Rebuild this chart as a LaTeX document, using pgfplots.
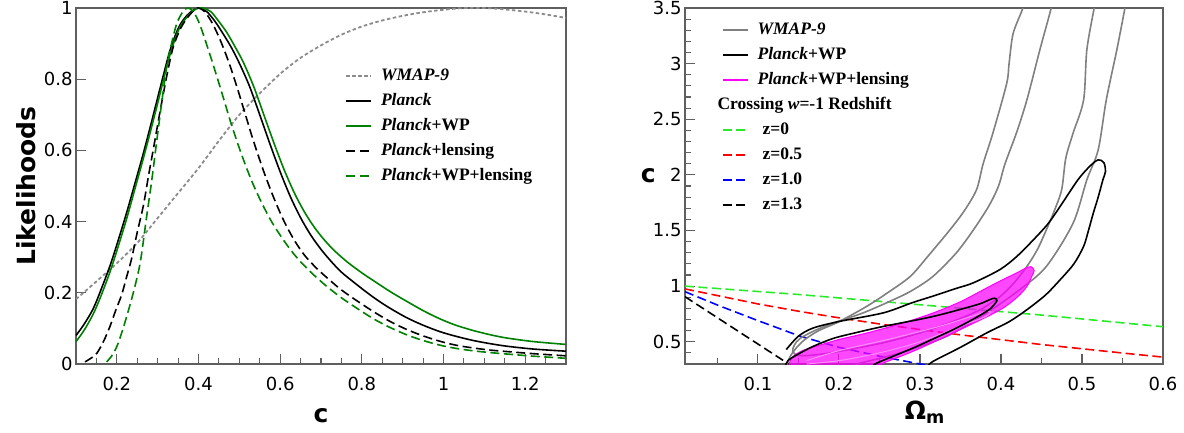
\documentclass[border=0pt]{standalone}
\usepackage{pgfplots}
\pgfplotsset{compat=1.18}
\usepackage{fontspec}
\setmainfont{Liberation Serif}
\setsansfont{DejaVu Sans}

\definecolor{dgreen}{RGB}{0,128,0}
\definecolor{lgreen}{RGB}{40,235,40}
\definecolor{frame}{RGB}{95,95,95}
\definecolor{mag}{RGB}{255,0,255}
\definecolor{red}{RGB}{255,0,0}
\definecolor{blue}{RGB}{0,0,255}

\pgfplotsset{
  panel/.style={
    scale only axis, height=356pt,
    axis line style={draw=frame, line width=1.3pt},
    tick style={draw=frame, line width=1.1pt},
    major tick length=10pt, minor tick length=6pt,
    tick align=inside, xtick pos=left, ytick pos=left,
    ticklabel style={font=\fontsize{18}{18}\selectfont\sffamily},
    /pgf/number format/assume math mode=true,
    xticklabel style={yshift=-10pt},
    label style={font=\fontsize{25}{25}\selectfont\sffamily\bfseries},
    legend style={draw=none, fill=none, inner sep=0pt, anchor=north west,
      font=\fontsize{17.5}{20}\selectfont\rmfamily\bfseries, row sep=6pt,
      nodes={inner sep=1pt, text height=13pt, text depth=4pt},
      /tikz/column sep=8pt},
    legend cell align=left,
    legend image code/.code={\draw[#1] (0pt,0pt) -- (25pt,0pt);},
  },
  dsh/.style={dash pattern=on 9pt off 4.5pt},
}

\begin{document}
\begin{tikzpicture}
\path[use as bounding box] (0,0) rectangle (1184pt,432pt);

% ---- left: likelihoods of c
\begin{axis}[panel, at={(76pt,68pt)}, anchor=south west, width=490pt,
    xmin=0.1, xmax=1.3, ymin=0, ymax=1,
    xtick={0.2,0.4,0.6,0.8,1,1.2},
    minor xtick={0.15,0.25,0.3,0.35,0.45,0.5,0.55,0.65,0.7,0.75,0.85,0.9,0.95,1.05,1.1,1.15,1.25},
    ytick={0,0.2,0.4,0.6,0.8,1},
    xlabel={c}, ylabel={Likelihoods},
    xlabel style={at={(axis description cs:0.5,-0.146)}, anchor=center},
    ylabel style={at={(axis description cs:-0.102,0.5)}, anchor=center},
    legend style={at={(axis description cs:0.549,0.837)}},
]
\addplot[gray!90, line width=1.8pt, dash pattern=on 3.5pt off 2.5pt, smooth] coordinates {
(0.10,0.182) (0.15,0.232) (0.20,0.283) (0.25,0.34) (0.30,0.41) (0.35,0.48)
(0.40,0.55) (0.45,0.627) (0.50,0.70) (0.55,0.76) (0.60,0.815) (0.65,0.86)
(0.70,0.895) (0.75,0.925) (0.80,0.948) (0.85,0.965) (0.90,0.978) (0.95,0.988)
(1.00,0.995) (1.05,1.0) (1.10,1.0) (1.15,0.996) (1.20,0.99) (1.25,0.982) (1.30,0.972)};
\addlegendentry{\textit{WMAP-9}}
\addplot[black, line width=1.6pt, smooth] coordinates {
(0.100,0.080) (0.120,0.112) (0.142,0.155) (0.160,0.205) (0.183,0.275) (0.200,0.335)
(0.224,0.425) (0.245,0.510) (0.265,0.592) (0.285,0.680) (0.306,0.775) (0.330,0.880)
(0.350,0.942) (0.365,0.970) (0.380,0.988) (0.400,1.000) (0.420,0.990) (0.440,0.963)
(0.460,0.928) (0.480,0.890) (0.500,0.845) (0.525,0.780) (0.550,0.700) (0.575,0.618)
(0.600,0.540) (0.625,0.470) (0.650,0.411) (0.675,0.362) (0.700,0.322) (0.725,0.288)
(0.750,0.258) (0.780,0.230) (0.810,0.203) (0.840,0.178) (0.870,0.156) (0.910,0.130)
(0.950,0.109) (0.991,0.091) (1.030,0.078) (1.073,0.066) (1.115,0.057) (1.155,0.050)
(1.220,0.042) (1.300,0.036)};
\addlegendentry{\textit{Planck}}
\addplot[dgreen, line width=1.6pt, smooth] coordinates {
(0.100,0.063) (0.120,0.095) (0.142,0.140) (0.160,0.188) (0.183,0.258) (0.200,0.318)
(0.224,0.408) (0.245,0.495) (0.265,0.578) (0.285,0.665) (0.306,0.760) (0.330,0.868)
(0.350,0.935) (0.365,0.965) (0.380,0.985) (0.395,0.998) (0.410,1.000) (0.430,0.990)
(0.450,0.962) (0.470,0.930) (0.490,0.890) (0.510,0.847) (0.535,0.780) (0.560,0.700)
(0.585,0.620) (0.610,0.545) (0.635,0.480) (0.660,0.426) (0.685,0.382) (0.710,0.346)
(0.735,0.316) (0.765,0.286) (0.800,0.256) (0.830,0.233) (0.870,0.203) (0.910,0.176)
(0.950,0.150) (0.991,0.127) (1.030,0.109) (1.073,0.094) (1.115,0.082) (1.155,0.073)
(1.220,0.063) (1.300,0.055)};
\addlegendentry{\textit{Planck}+WP}
\addplot[black, line width=1.6pt, dsh, smooth] coordinates {
(0.122,0.006) (0.135,0.015) (0.151,0.030) (0.168,0.065) (0.183,0.105) (0.197,0.150)
(0.212,0.195) (0.224,0.245) (0.236,0.295) (0.250,0.370) (0.265,0.445) (0.277,0.525)
(0.289,0.601) (0.302,0.685) (0.314,0.760) (0.326,0.830) (0.338,0.890) (0.355,0.940)
(0.371,0.970) (0.390,0.995) (0.400,1.000) (0.415,0.990) (0.435,0.955) (0.455,0.905)
(0.475,0.845) (0.495,0.775) (0.515,0.700) (0.535,0.625) (0.560,0.540) (0.585,0.465)
(0.610,0.400) (0.635,0.347) (0.660,0.305) (0.690,0.268) (0.720,0.237) (0.750,0.208)
(0.790,0.176) (0.830,0.146) (0.870,0.119) (0.910,0.097) (0.950,0.079) (0.991,0.064)
(1.030,0.053) (1.073,0.045) (1.115,0.039) (1.155,0.035) (1.220,0.029) (1.300,0.023)};
\addlegendentry{\textit{Planck}+lensing}
\addplot[dgreen, line width=1.6pt, dsh, smooth] coordinates {
(0.175,0.006) (0.187,0.022) (0.200,0.049) (0.212,0.088) (0.224,0.133) (0.240,0.199)
(0.257,0.283) (0.273,0.414) (0.286,0.520) (0.298,0.629) (0.310,0.735) (0.322,0.835)
(0.335,0.905) (0.347,0.957) (0.362,0.990) (0.375,1.000) (0.390,0.985) (0.405,0.948)
(0.430,0.862) (0.455,0.770) (0.480,0.675) (0.505,0.590) (0.530,0.515) (0.555,0.452)
(0.580,0.398) (0.610,0.345) (0.640,0.300) (0.675,0.258) (0.710,0.222) (0.750,0.186)
(0.790,0.155) (0.830,0.126) (0.870,0.102) (0.910,0.082) (0.950,0.066) (0.991,0.053)
(1.030,0.044) (1.073,0.037) (1.115,0.032) (1.155,0.028) (1.220,0.022) (1.300,0.016)};
\addlegendentry{\textit{Planck}+WP+lensing}
\end{axis}

% ---- right: c versus Omega_m
\begin{axis}[panel, at={(685pt,68pt)}, anchor=south west, width=478pt,
    xmin=0.01, xmax=0.6, ymin=0.3, ymax=3.5,
    xtick={0.1,0.2,0.3,0.4,0.5,0.6},
    minor xtick={0.05,0.15,0.25,0.35,0.45,0.55},
    ytick={0.5,1,1.5,2,2.5,3,3.5},
    minor ytick={0.4,0.6,0.7,0.8,0.9,1.1,1.2,1.3,1.4,1.6,1.7,1.8,1.9,2.1,2.2,2.3,2.4,2.6,2.7,2.8,2.9,3.1,3.2,3.3,3.4},
    xlabel={Ω\textsubscript{m}}, ylabel={c},
    xlabel style={at={(axis description cs:0.502,-0.135)}, anchor=center},
    ylabel style={at={(axis description cs:-0.077,0.53)}, anchor=center, rotate=-90},
    legend style={at={(axis description cs:0.077,0.966)}},
]
% crossing redshift lines
\addplot[lgreen, line width=1.6pt, dsh, forget plot] coordinates {
(0.01,1.0) (0.15,0.925) (0.333,0.812) (0.45,0.74) (0.6,0.635)};
\addplot[red, line width=1.6pt, dsh, forget plot] coordinates {
(0.01,0.975) (0.05,0.915) (0.1,0.84) (0.152,0.772) (0.2,0.715) (0.25,0.66)
(0.3,0.61) (0.349,0.563) (0.45,0.475) (0.559,0.392) (0.6,0.362)};
\addplot[blue, line width=1.6pt, dsh, forget plot] coordinates {
(0.01,0.95) (0.05,0.83) (0.1,0.69) (0.152,0.55) (0.2,0.45) (0.25,0.37) (0.3,0.30) (0.31,0.29)};
\addplot[black, line width=1.6pt, dsh, forget plot] coordinates {
(0.01,0.905) (0.138,0.30) (0.14,0.29)};
% WMAP-9 contours
\addplot[gray, line width=1.6pt, smooth, forget plot] coordinates {
(0.428,3.6) (0.427,3.5) (0.415,3.27) (0.41,3.0) (0.407,2.82) (0.39,2.375) (0.378,2.1)
(0.37,1.87) (0.355,1.68) (0.337,1.506) (0.31,1.27) (0.288,1.087) (0.26,0.94)
(0.234,0.817) (0.2,0.68) (0.175,0.6) (0.158,0.52) (0.148,0.45) (0.14,0.37) (0.136,0.3) (0.135,0.28)};
\addplot[gray, line width=1.6pt, smooth, forget plot] coordinates {
(0.464,3.6) (0.462,3.5) (0.448,3.124) (0.432,2.674) (0.419,2.375) (0.405,2.1) (0.397,1.9)
(0.385,1.72) (0.366,1.506) (0.345,1.3) (0.316,1.087) (0.29,0.96) (0.267,0.877)
(0.23,0.76) (0.193,0.668) (0.17,0.6) (0.152,0.53) (0.145,0.47) (0.143,0.41)
(0.152,0.375) (0.18,0.39) (0.22,0.44) (0.26,0.5) (0.3,0.58) (0.34,0.68) (0.374,0.787)
(0.399,0.907) (0.415,1.02) (0.432,1.177) (0.445,1.33) (0.456,1.506) (0.466,1.68)
(0.475,1.87) (0.48,2.15) (0.489,2.375) (0.502,2.674) (0.506,3.124) (0.515,3.5) (0.517,3.6)};
\addplot[gray, line width=1.6pt, smooth, forget plot] coordinates {
(0.555,3.6) (0.553,3.5) (0.543,3.124) (0.530,2.674) (0.52,2.225) (0.506,1.956)
(0.489,1.566) (0.456,1.177) (0.423,0.967) (0.382,0.758) (0.333,0.548) (0.275,0.398)
(0.226,0.308) (0.215,0.28)};
% Planck+WP+lensing (filled)
\addplot[draw=mag, fill=mag, fill opacity=0.72, line width=1pt, smooth, forget plot] coordinates {
(0.138,0.28) (0.142,0.36) (0.155,0.42) (0.172,0.46) (0.2,0.52) (0.234,0.578)
(0.275,0.66) (0.316,0.758) (0.35,0.86) (0.378,0.967) (0.4,1.05) (0.419,1.117)
(0.43,1.16) (0.437,1.175) (0.441,1.14) (0.438,1.087) (0.432,0.997) (0.42,0.9)
(0.399,0.787) (0.358,0.638) (0.296,0.428) (0.255,0.309) (0.248,0.28)};
\addplot[mag!45, line width=1pt, smooth, forget plot] coordinates {
(0.16,0.33) (0.2,0.42) (0.26,0.52) (0.32,0.63) (0.36,0.72) (0.385,0.775)
(0.382,0.73) (0.35,0.64) (0.3,0.5) (0.25,0.4) (0.2,0.33) (0.16,0.3)};
% Planck+WP contours
\addplot[black, line width=1.6pt, smooth, forget plot] coordinates {
(0.135,0.43) (0.15,0.55) (0.168,0.623) (0.2,0.682) (0.255,0.76) (0.29,0.85)
(0.316,0.91) (0.345,0.98) (0.366,1.03) (0.399,1.15) (0.42,1.27) (0.44,1.416)
(0.458,1.56) (0.473,1.716) (0.495,1.956) (0.51,2.08) (0.52,2.135) (0.527,2.11)
(0.529,2.03) (0.526,1.96) (0.52,1.8) (0.514,1.657) (0.508,1.5) (0.502,1.357)
(0.49,1.2) (0.473,1.057) (0.455,0.92) (0.432,0.788) (0.41,0.68) (0.382,0.578)
(0.35,0.45) (0.316,0.323) (0.31,0.28)};
\addplot[black, line width=1.6pt, smooth, forget plot] coordinates {
(0.134,0.28) (0.137,0.33) (0.15,0.39) (0.168,0.458) (0.193,0.53) (0.22,0.58)
(0.255,0.638) (0.316,0.727) (0.37,0.832) (0.385,0.875) (0.392,0.892) (0.395,0.87)
(0.39,0.82) (0.382,0.772) (0.349,0.638) (0.296,0.458) (0.247,0.309) (0.244,0.28)};

\addlegendimage{gray, line width=1.6pt}
\addlegendentry{\textit{WMAP-9}}
\addlegendimage{black, line width=1.6pt}
\addlegendentry{\textit{Planck}+WP}
\addlegendimage{mag, line width=1.6pt}
\addlegendentry{\textit{Planck}+WP+lensing}
\addlegendimage{empty legend}
\addlegendentry{\hspace*{-40pt}Crossing \textit{w}=-1 Redshift}
\addlegendimage{lgreen, line width=1.6pt, dsh}
\addlegendentry{\hspace*{5pt}z=0}
\addlegendimage{red, line width=1.6pt, dsh}
\addlegendentry{\hspace*{5pt}z=0.5}
\addlegendimage{blue, line width=1.6pt, dsh}
\addlegendentry{\hspace*{5pt}z=1.0}
\addlegendimage{black, line width=1.6pt, dsh}
\addlegendentry{\hspace*{5pt}z=1.3}
\end{axis}
\end{tikzpicture}
\end{document}
